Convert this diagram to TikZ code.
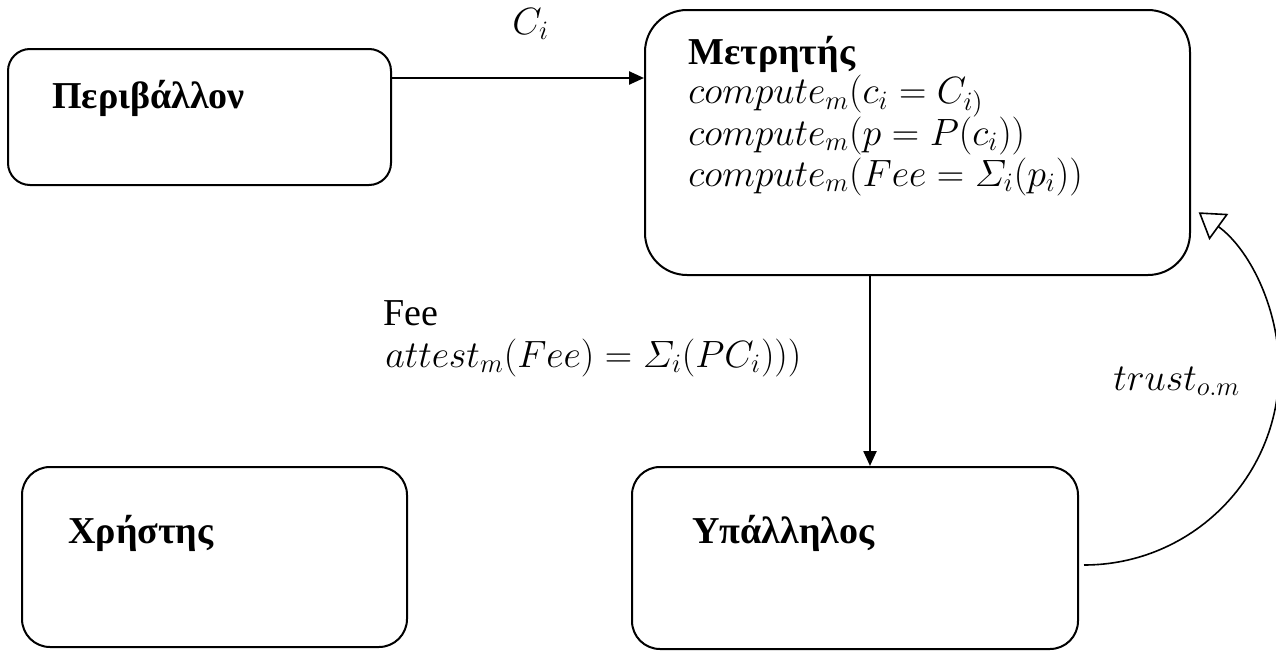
\RequirePackage{fix-cm}
\documentclass[tikz,border=0pt]{standalone}
\usepackage{amsmath}
\usepackage{fontspec}
\setmainfont{Liberation Serif}
\usetikzlibrary{arrows.meta}

\tikzset{
  box/.style={draw,line width=1pt,rounded corners=#1,inner sep=0pt},
  box/.default=14pt,
  txt/.style={anchor=base west,inner sep=0pt},
  ttl/.style={txt,font=\fontsize{19}{23}\selectfont\bfseries},
  flow/.style={line width=1.2pt,-{Triangle[length=7.5pt,width=6.5pt]}},
  trustline/.style={line width=0.8pt,-{Triangle[open,length=12.5pt,width=16pt,line width=0.8pt]}}
}

\begin{document}
\begin{tikzpicture}[x=0.5pt,y=0.5pt,every node/.style={font=\fontsize{19}{23}\selectfont}]

\useasboundingbox (0,0) rectangle (1276,-653);

% the four agents
\node[box=11pt,minimum width=191.5pt,minimum height=68pt] (peri) at (199.5,-117) {};
\node[box=21pt,minimum width=272.5pt,minimum height=132.5pt] (metr) at (917.5,-142.5) {};
\node[box=14pt,minimum width=192.5pt,minimum height=90pt] (chr) at (214.5,-557) {};
\node[box=14pt,minimum width=223pt,minimum height=91pt] (ypal) at (855,-558) {};

\node[ttl] (periname) at (52,-108) {Περιβάλλον};
\node[ttl] (metrname) at (688,-64) {Μετρητής};
\node[txt] (comp1) at (688,-104) {$compute_m(c_i = C_{i)}$};
\node[txt] (comp2) at (688,-145) {$compute_m(p = P(c_i))$};
\node[txt] (comp3) at (688,-186) {$compute_m(Fee = \varSigma_i(p_i))$};
\node[ttl] (chrname) at (68,-543) {Χρήστης};
\node[ttl] (ypalname) at (692,-543) {Υπάλληλος};

% messages
\draw[flow] ([yshift=19.5pt]peri.east) -- ([yshift=19.5pt]peri.east -| metr.west);
\node[txt] (ci) at (512,-34) {$C_i$};

\draw[flow] ([xshift=-23.75pt]metr.south) -- ([xshift=-23.75pt]metr.south |- ypal.north);
\node[txt] (fee) at (383,-325) {Fee};
\node[txt] (att) at (385,-367) {$attest_m(Fee) = \varSigma_i(PC_i)))$};

\draw[trustline] ([xshift=2.5pt,yshift=-3.5pt]ypal.east) arc[start angle=-90,end angle=54,radius=195];
\node[txt] (trust) at (1113,-390) {$trust_{o.m}$};

\end{tikzpicture}
\end{document}
